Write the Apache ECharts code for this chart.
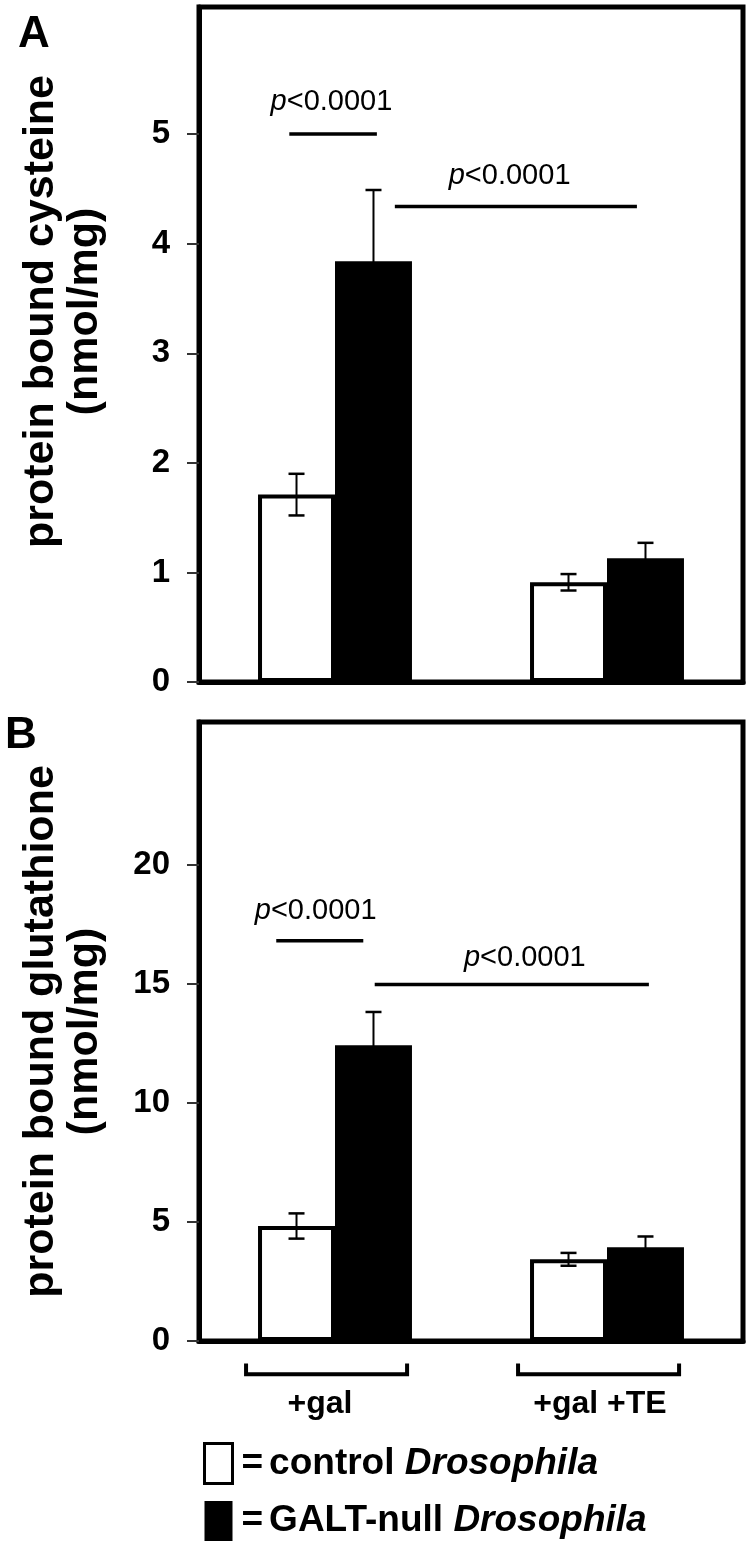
<!DOCTYPE html>
<html><head><meta charset="utf-8">
<script src="https://cdn.jsdelivr.net/npm/echarts@6/dist/echarts.min.js"></script>
<style>html,body{margin:0;padding:0;background:#fff}#c{width:750px;height:1552px}</style>
</head><body><div id="c"></div>
<script>
// ---------- data ----------
const categories = ['+gal', '+gal +TE'];
const seriesNames = ['control Drosophila', 'GALT-null Drosophila'];
// Panel A: protein bound cysteine (nmol/mg)
const cysControl    = [1.71, 0.91];
const cysControlErr = [0.19, 0.075];
const cysGalt       = [3.84, 1.13];
const cysGaltErr    = [0.65, 0.14];
// Panel B: protein bound glutathione (nmol/mg)
const gshControl    = [4.83, 3.43];
const gshControlErr = [0.53, 0.27];
const gshGalt       = [12.42, 3.94];
const gshGaltErr    = [1.40, 0.45];
// tick labels
const cysTicks = [0, 1, 2, 3, 4, 5];
const gshTicks = [0, 5, 10, 15, 20];
const pText = 'p<0.0001';

// ---------- annotation layout (data-space) ----------
const cysSigLines = [[-0.168, 5.0, 0.154], [0.22, 4.34, 1.11]];
const cysSigText  = [[-0.013, 5.29], [0.642, 4.62]];
const gshSigLines = [[-0.216, 16.81, 0.104], [0.146, 14.97, 1.154]];
const gshSigText  = [[-0.071, 18.07], [0.698, 16.1]];

const F = '"Liberation Sans", Arial, Helvetica, sans-serif';
const BAR_FRAC = 0.283;

function errSeries(xIdx, yIdx, means, errs, side) {
  return {
    type: 'custom', xAxisIndex: xIdx, yAxisIndex: yIdx, z: 5, silent: true,
    data: means.map((m, i) => [i, m, errs[i]]),
    renderItem(params, api) {
      const i = api.value(0), m = api.value(1), e = api.value(2);
      const bw = api.size([1, 0])[0] * BAR_FRAC;
      const cx = api.coord([i, m])[0] + side * bw / 2;
      const yT = api.coord([i, m + e])[1], yB = api.coord([i, m - e])[1];
      const cap = 8;
      return {type: 'group', children: [
        {type: 'line', shape: {x1: cx, y1: yT, x2: cx, y2: yB}, style: {stroke: '#000', lineWidth: 2}},
        {type: 'line', shape: {x1: cx - cap, y1: yT, x2: cx + cap, y2: yT}, style: {stroke: '#000', lineWidth: 2.5}},
        {type: 'line', shape: {x1: cx - cap, y1: yB, x2: cx + cap, y2: yB}, style: {stroke: '#000', lineWidth: 2.5}}
      ]};
    }
  };
}
function sigLineSeries(xIdx, yIdx, lines) {
  return {
    type: 'custom', xAxisIndex: xIdx, yAxisIndex: yIdx, z: 6, silent: true,
    data: lines,
    renderItem(params, api) {
      const p1 = api.coord([api.value(0), api.value(1)]);
      const p2 = api.coord([api.value(2), api.value(1)]);
      return {type: 'line', shape: {x1: p1[0], y1: p1[1], x2: p2[0], y2: p2[1]}, style: {stroke: '#000', lineWidth: 3.5}};
    }
  };
}
function sigTextSeries(xIdx, yIdx, pts) {
  return {
    type: 'custom', xAxisIndex: xIdx, yAxisIndex: yIdx, z: 6, silent: true,
    data: pts,
    renderItem(params, api) {
      const p = api.coord([api.value(0), api.value(1)]);
      return {type: 'text', x: p[0], y: p[1], style: {
        text: '{i|p}{n|' + pText.slice(1) + '}',
        align: 'center', verticalAlign: 'middle', fill: '#000',
        fontSize: 29, fontFamily: F,
        rich: {
          i: {fontStyle: 'italic', fontSize: 29, fontFamily: F, fill: '#000'},
          n: {fontSize: 29, fontFamily: F, fill: '#000'}
        }
      }};
    }
  };
}
function bracketSeries(xIdx, yIdx) {
  return {
    type: 'custom', xAxisIndex: xIdx, yAxisIndex: yIdx, z: 6, silent: true, clip: false,
    data: categories.map((c, i) => [i]),
    renderItem(params, api) {
      const i = api.value(0);
      const a = api.coord([i - 0.327, -0.95]), b = api.coord([i - 0.327, -1.4]);
      const c = api.coord([i + 0.265, -1.4]), d = api.coord([i + 0.265, -0.95]);
      return {type: 'polyline', shape: {points: [a, b, c, d]}, style: {stroke: '#000', lineWidth: 4, fill: null}};
    }
  };
}

const axisNameStyle = {fontSize: 43, fontWeight: 'bold', color: '#000', fontFamily: F, lineHeight: 44};
const tickLabelStyle = {fontSize: 33, fontWeight: 'bold', color: '#000', fontFamily: F, margin: 29};

const option = {
  animation: false,
  backgroundColor: '#fff',
  title: [
    {text: 'A', left: 18, top: 13, padding: 0, textStyle: {fontSize: 44, fontWeight: 'bold', color: '#000', fontFamily: F}},
    {text: 'B', left: 5, top: 714, padding: 0, textStyle: {fontSize: 44, fontWeight: 'bold', color: '#000', fontFamily: F}}
  ],
  grid: [
    {left: 199, top: 7, width: 544, height: 675, show: true, borderColor: '#000', borderWidth: 5, backgroundColor: 'transparent'},
    {left: 199, top: 722, width: 544, height: 619, show: true, borderColor: '#000', borderWidth: 5, backgroundColor: 'transparent'}
  ],
  xAxis: [
    {gridIndex: 0, type: 'category', data: categories, axisLine: {show: true, onZero: false, lineStyle: {color: '#000', width: 5}}, axisTick: {show: false}, axisLabel: {show: false}},
    {gridIndex: 0, type: 'value', min: -0.5, max: 1.5, show: false},
    {gridIndex: 1, type: 'category', data: categories, axisLine: {show: true, onZero: false, lineStyle: {color: '#000', width: 5}}, axisTick: {show: false},
      axisLabel: {margin: 47, fontSize: 32, fontWeight: 'bold', color: '#000', fontFamily: F,
        formatter: (v, i) => '{c' + i + '|' + v + '}',
        rich: {c0: {fontSize: 32, fontWeight: 'bold', fontFamily: F, color: '#000', padding: [0, 30, 0, 0]},
               c1: {fontSize: 32, fontWeight: 'bold', fontFamily: F, color: '#000', padding: [0, 14, 0, 0]}}}},
    {gridIndex: 1, type: 'value', min: -0.5, max: 1.5, show: false}
  ],
  yAxis: [
    {gridIndex: 0, type: 'value', min: 0, max: 6.16, interval: 1, splitLine: {show: false},
      axisLine: {show: true, onZero: false, lineStyle: {color: '#000', width: 5}},
      axisTick: {show: true, length: 12, lineStyle: {color: '#333', width: 2}, customValues: cysTicks},
      axisLabel: Object.assign({customValues: cysTicks}, tickLabelStyle),
      name: 'protein bound cysteine\n(nmol/mg)', nameLocation: 'middle', nameRotate: 90, nameGap: 92,
      nameTextStyle: Object.assign({padding: [0, 0, 0, 66]}, axisNameStyle)},
    {gridIndex: 1, type: 'value', min: 0, max: 26, interval: 5, splitLine: {show: false},
      axisLine: {show: true, onZero: false, lineStyle: {color: '#000', width: 5}},
      axisTick: {show: true, length: 12, lineStyle: {color: '#333', width: 2}, customValues: gshTicks},
      axisLabel: Object.assign({customValues: gshTicks}, tickLabelStyle),
      name: 'protein bound glutathione\n(nmol/mg)', nameLocation: 'middle', nameRotate: 90, nameGap: 92,
      nameTextStyle: axisNameStyle}
  ],
  legend: {
    orient: 'vertical', left: 203, top: 1442, itemWidth: 28, itemHeight: 40, itemGap: 16, selectedMode: false, padding: 0,
    data: [
      {name: seriesNames[0], icon: 'rect', itemStyle: {color: '#fff', borderColor: '#000', borderWidth: 3}},
      {name: seriesNames[1], icon: 'rect', itemStyle: {color: '#000', borderWidth: 0}}
    ],
    formatter: n => { const k = n.lastIndexOf(' '); return '{eq|=}' + n.slice(0, k + 1) + '{it|' + n.slice(k + 1) + '}'; },
    textStyle: {fontSize: 37, fontWeight: 'bold', color: '#000', fontFamily: F,
      rich: {eq: {fontSize: 37, fontWeight: 'bold', fontFamily: F, color: '#000', padding: [0, 6, 0, 4]},
             it: {fontSize: 37, fontWeight: 'bold', fontStyle: 'italic', fontFamily: F, color: '#000'}}}
  },
  series: [
    {name: seriesNames[0], type: 'bar', xAxisIndex: 0, yAxisIndex: 0, data: cysControl, barWidth: '28.3%', barGap: '0%',
      itemStyle: {color: '#fff', borderColor: '#000', borderWidth: 4}},
    {name: seriesNames[1], type: 'bar', xAxisIndex: 0, yAxisIndex: 0, data: cysGalt, barWidth: '28.3%', barGap: '0%',
      itemStyle: {color: '#000'}},
    {name: seriesNames[0], type: 'bar', xAxisIndex: 2, yAxisIndex: 1, data: gshControl, barWidth: '28.3%', barGap: '0%',
      itemStyle: {color: '#fff', borderColor: '#000', borderWidth: 4}},
    {name: seriesNames[1], type: 'bar', xAxisIndex: 2, yAxisIndex: 1, data: gshGalt, barWidth: '28.3%', barGap: '0%',
      itemStyle: {color: '#000'}},
    errSeries(0, 0, cysControl, cysControlErr, -1),
    errSeries(0, 0, cysGalt, cysGaltErr, 1),
    errSeries(2, 1, gshControl, gshControlErr, -1),
    errSeries(2, 1, gshGalt, gshGaltErr, 1),
    sigLineSeries(1, 0, cysSigLines),
    sigTextSeries(1, 0, cysSigText),
    sigLineSeries(3, 1, gshSigLines),
    sigTextSeries(3, 1, gshSigText),
    bracketSeries(3, 1)
  ]
};
const chart = echarts.init(document.getElementById('c'), null, {renderer: 'canvas'});
chart.setOption(option);
</script></body></html>
